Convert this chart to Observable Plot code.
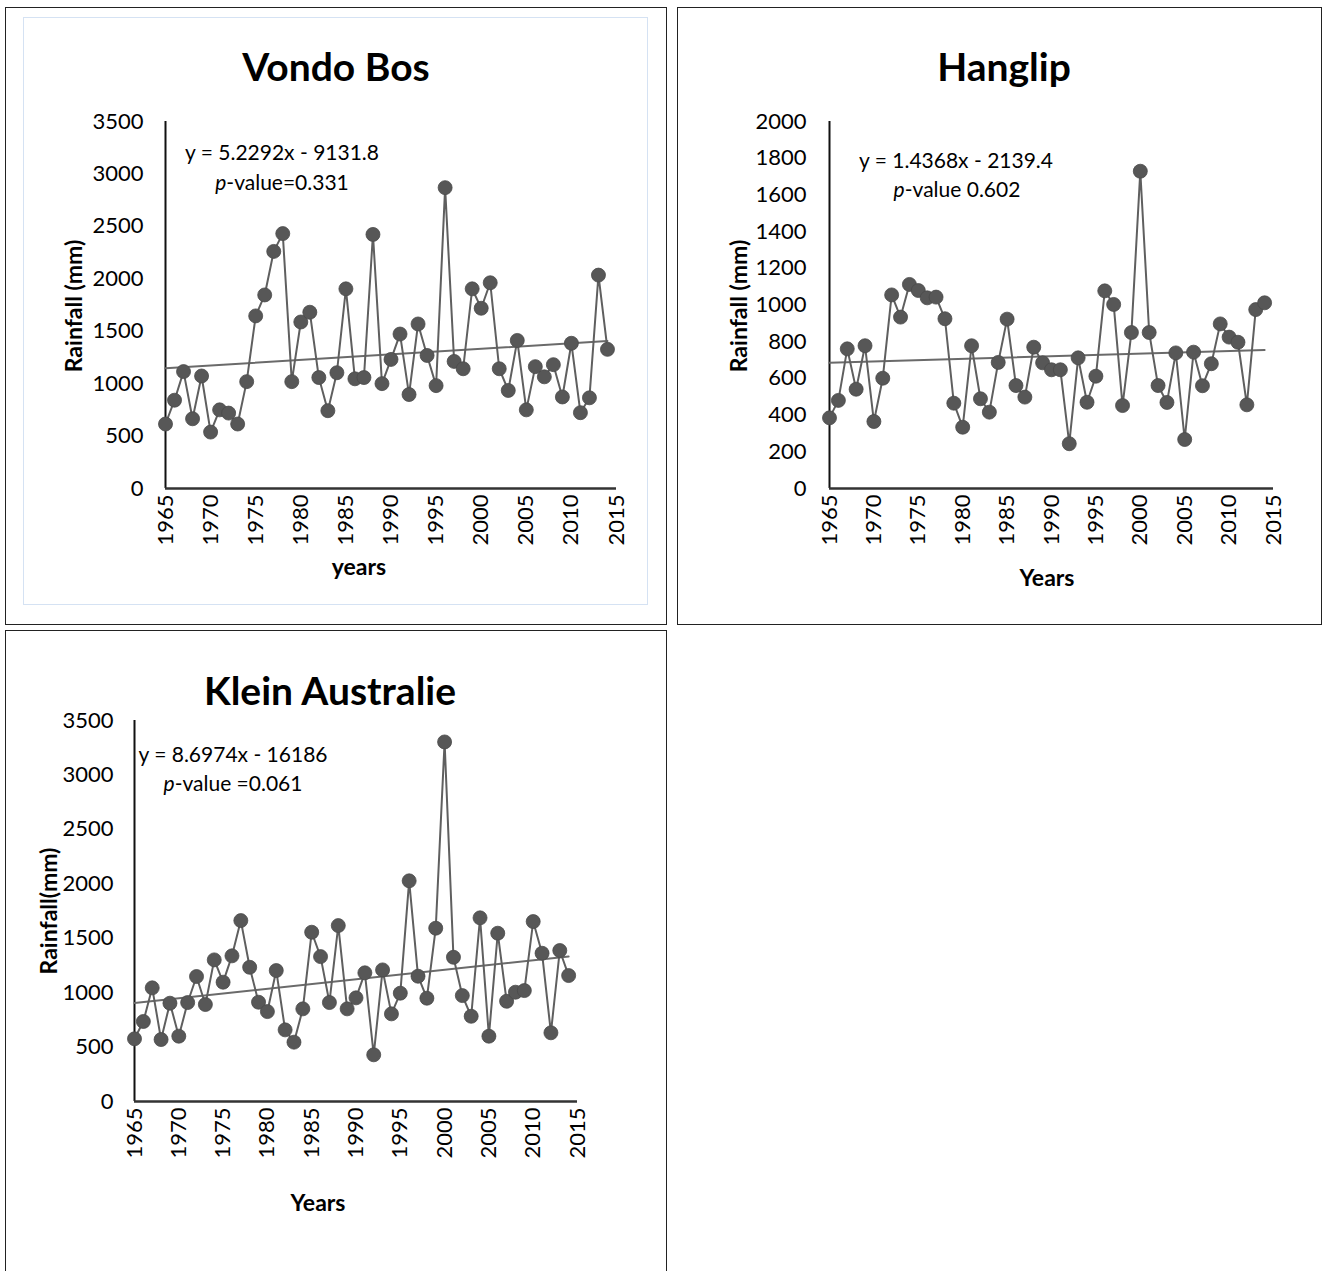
<!DOCTYPE html>
<html>
<head>
<meta charset="utf-8">
<script src="https://cdn.jsdelivr.net/npm/d3@7"></script>
<script src="https://cdn.jsdelivr.net/npm/@observablehq/plot@0.6"></script>
<style>
  html, body { margin: 0; padding: 0; background: #fff; }
  body { width: 1328px; height: 1271px; position: relative; overflow: hidden; font-family: Lato, "Open Sans", sans-serif; color: #000; }
  .box { position: absolute; border: 1.5px solid #222; box-sizing: border-box; }
  .inner { position: absolute; border: 1.5px solid #d5e2f3; box-sizing: border-box; }
  .chart { position: absolute; }
  .title { position: absolute; font-weight: bold; font-size: 39px; line-height: 1; white-space: nowrap; transform: translate(-50%, -50%); }
  .eq { position: absolute; font-size: 21px; line-height: 1; white-space: nowrap; transform: translate(-50%, -50%); }
  .lab { position: absolute; font-weight: bold; font-size: 23px; line-height: 1; white-space: nowrap; transform: translate(-50%, -50%); }
  .ylab { transform: translate(-50%, -50%) rotate(-90deg); }
</style>
</head>
<body>
<div class="box" style="left:5px;top:7px;width:662px;height:618px;"></div>
<div class="inner" style="left:23px;top:17px;width:625px;height:588px;"></div>
<div class="box" style="left:677px;top:7px;width:645px;height:618px;"></div>
<div class="box" style="left:5px;top:630px;width:662px;height:660px;"></div>

<div id="c1" class="chart" style="left:23px;top:100px;"></div>
<div id="c2" class="chart" style="left:690px;top:100px;"></div>
<div id="c3" class="chart" style="left:20px;top:700px;"></div>

<div class="title" style="left:336px;top:66px;">Vondo Bos</div>
<div class="title" style="left:1004px;top:66px;">Hanglip</div>
<div class="title" style="left:330px;top:690px;">Klein Australie</div>

<div class="eq" style="left:282px;top:151px;">y = 5.2292x - 9131.8</div>
<div class="eq" style="left:282px;top:181px;"><i>p</i>-value=0.331</div>
<div class="eq" style="left:956px;top:159px;">y = 1.4368x - 2139.4</div>
<div class="eq" style="left:957px;top:188px;"><i>p</i>-value 0.602</div>
<div class="eq" style="left:233px;top:753px;">y = 8.6974x - 16186</div>
<div class="eq" style="left:233px;top:782px;"><i>p</i>-value =0.061</div>

<div class="lab ylab" style="left:73px;top:306px;">Rainfall (mm)</div>
<div class="lab ylab" style="left:738px;top:306px;">Rainfall (mm)</div>
<div class="lab ylab" style="left:48px;top:911px;">Rainfall(mm)</div>
<div class="lab" style="left:359px;top:566px;">years</div>
<div class="lab" style="left:1047px;top:577px;">Years</div>
<div class="lab" style="left:318px;top:1202px;">Years</div>

<script>
const years = [1965,1966,1967,1968,1969,1970,1971,1972,1973,1974,
  1975,1976,1977,1978,1979,1980,1981,1982,1983,1984,
  1985,1986,1987,1988,1989,1990,1991,1992,1993,1994,
  1995,1996,1997,1998,1999,2000,2001,2002,2003,2004,
  2005,2006,2007,2008,2009,2010,2011,2012,2013,2014];

const vondoBos = [615,842,1115,665,1073,538,750,719,615,1019,
  1646,1846,2261,2431,1019,1588,1681,1058,742,1104,
  1904,1046,1058,2423,1000,1231,1473,896,1569,1269,
  981,2869,1212,1142,1904,1719,1962,1142,935,1412,
  750,1162,1065,1181,873,1385,723,865,2035,1327];

const hanglip = [385,480,761,541,778,365,601,1055,934,1112,
  1079,1039,1043,925,465,334,778,489,416,687,
  923,561,498,770,685,647,647,244,712,470,
  612,1077,1003,452,850,1729,850,561,469,739,
  267,743,560,680,897,825,797,456,975,1012];

const kleinAustralie = [576,735,1044,569,903,600,909,1148,891,1301,
  1096,1338,1662,1233,912,826,1203,658,545,851,
  1555,1331,909,1616,851,952,1182,429,1209,805,
  995,2027,1151,949,1592,3303,1325,973,783,1687,
  600,1546,921,1004,1019,1653,1362,631,1387,1157];

const xTicks = [1965,1970,1975,1980,1985,1990,1995,2000,2005,2010,2015];
const yTicks3500 = [0,500,1000,1500,2000,2500,3000,3500];
const yTicks2000 = [0,200,400,600,800,1000,1200,1400,1600,1800,2000];

function makeChart(values, yTicks, opt) {
  const data = years.map((yr, i) => ({year: yr, rain: values[i]}));
  const yMax = yTicks[yTicks.length - 1];
  return Plot.plot({
    width: opt.width, height: opt.height,
    marginLeft: opt.ml, marginRight: opt.mr, marginTop: opt.mt, marginBottom: opt.mb,
    style: {fontFamily: "Lato, 'Open Sans', sans-serif", fontSize: "22px", color: "#000", background: "transparent", overflow: "visible"},
    x: {domain: [xTicks[0], xTicks[xTicks.length - 1]], ticks: xTicks},
    y: {domain: [0, yMax], ticks: yTicks},
    marks: [
      Plot.axisY({ticks: yTicks, tickSize: 0, tickPadding: opt.tp, tickFormat: d => String(d), label: null, fill: "#000"}),
      Plot.axisX({ticks: xTicks, tickSize: 0, tickPadding: 6, tickRotate: -90, tickFormat: d => String(d), label: null, fill: "#000"}),
      Plot.ruleX([xTicks[0]], {y1: 0, y2: yMax, stroke: "#111", strokeWidth: 2}),
      Plot.ruleY([0], {stroke: "#333", strokeWidth: 2.5}),
      Plot.linearRegressionY(data, {x: "year", y: "rain", ci: 0, stroke: "#6a6a6a", strokeWidth: 2}),
      Plot.line(data, {x: "year", y: "rain", stroke: "#5f5f5f", strokeWidth: 2}),
      Plot.dot(data, {x: "year", y: "rain", r: 7, fill: "#575757", stroke: "#4a4a4a", strokeWidth: 0.8})
    ]
  });
}

document.getElementById("c1").append(makeChart(vondoBos, yTicks3500, {width: 620, height: 490, ml: 142, mr: 27, mt: 21, mb: 102, tp: 22}));
document.getElementById("c2").append(makeChart(hanglip, yTicks2000, {width: 620, height: 490, ml: 139, mr: 37, mt: 21, mb: 102, tp: 23}));
document.getElementById("c3").append(makeChart(kleinAustralie, yTicks3500, {width: 620, height: 500, ml: 114, mr: 63, mt: 20, mb: 99, tp: 21}));
</script>
</body>
</html>
